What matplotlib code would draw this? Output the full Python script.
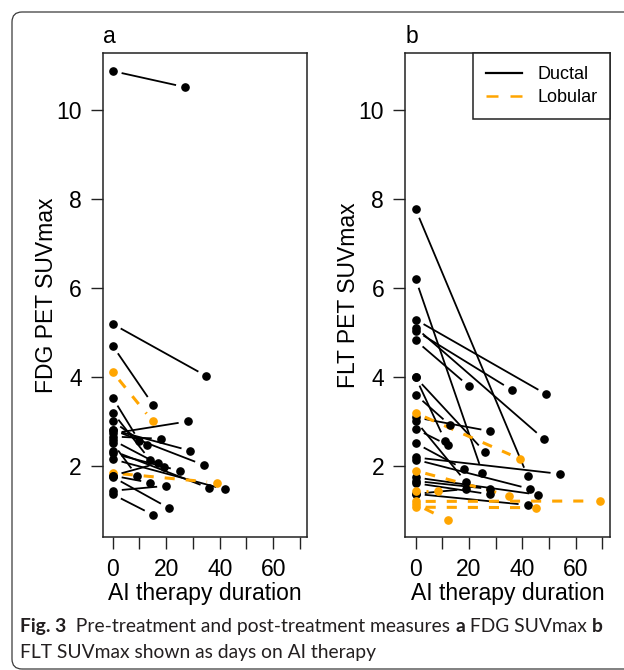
import numpy as np
import matplotlib
matplotlib.use('Agg')
import matplotlib.pyplot as plt
from matplotlib.patches import FancyBboxPatch
from matplotlib.lines import Line2D

plt.rcParams['font.family'] = ['Liberation Sans', 'DejaVu Sans']

# ---------------- data ----------------
# Panel a: FDG SUVmax (pre at day 0, post at AI therapy day)
a_pre = [10.88, 5.19, 4.70, 4.11, 3.53, 3.20, 3.00, 2.81, 2.81, 2.73, 2.66,
         2.58, 2.51, 2.34, 2.28, 2.15, 1.84, 1.78, 1.75, 1.78, 1.44, 1.36]
a_post = [10.52, 4.02, 3.38, 3.00, 2.55, 2.13, 2.46, 2.34, 2.02, 3.00, 2.61,
          1.98, 1.78, 1.50, 1.89, 1.47, 1.62, 2.06, 1.05, 1.62, 1.55, 0.90]
a_days = [27, 35, 15, 15, 10, 14, 13, 29, 34, 28, 18,
          19, 9, 36, 25, 42, 39, 17, 21, 14, 20, 15]
a_type = ['D', 'D', 'D', 'L', 'D', 'D', 'D', 'D', 'D', 'D', 'D',
          'D', 'D', 'D', 'D', 'D', 'L', 'D', 'D', 'D', 'D', 'D']

# Panel b: FLT SUVmax
b_pre = [7.77, 6.20, 5.29, 5.11, 5.04, 4.82, 3.99, 3.99, 3.60, 3.09, 3.01,
         2.83, 2.51, 2.19, 2.14, 1.74, 1.66, 1.61, 1.37, 1.37,
         3.19, 1.89, 1.44, 1.20, 1.07, 1.14]
b_post = [1.77, 1.85, 3.61, 2.61, 3.71, 3.79, 2.57, 2.31, 2.91, 2.78, 1.63,
          2.47, 1.93, 1.82, 1.48, 1.35, 1.48, 1.36, 1.48, 1.12,
          2.16, 1.33, 1.44, 1.21, 1.06, 0.78]
b_days = [42, 25, 49, 48, 36, 20, 11, 26, 13, 28, 19,
          12, 18, 54, 43, 46, 28, 28, 19, 42,
          39, 35, 8.5, 69, 45, 12]
b_type = ['D'] * 20 + ['L'] * 6

x_ticks = [0, 10, 20, 30, 40, 50, 60, 70]
x_ticklabels = ['0', '', '20', '', '40', '', '60', '']
y_ticks = [2, 4, 6, 8, 10]
legend_labels = ['Ductal', 'Lobular']

# ---------------- style ----------------
W, H, DPI = 624, 670, 100
ORANGE = '#FFA500'
FS = 16.5
GAP = 10.0  # px gap between point and segment (R type "b")

fig = plt.figure(figsize=(W / DPI, H / DPI), dpi=DPI)


def fx(px):
    return px / W


def fy(py):
    return 1 - py / H


def make_axes(left, right, top, bottom):
    return fig.add_axes([fx(left), fy(bottom), fx(right) - fx(left), fy(top) - fy(bottom)])


axA = make_axes(102.7, 307.3, 53.3, 537)
axB = make_axes(405, 610, 53.3, 537)
axA.set_xlim(-3.75, 72.75)
axB.set_xlim(-4.0, 72.9)
for ax in (axA, axB):
    ax.set_ylim(0.40, 11.28)


def draw_panel(ax, pre, post, days, types):
    for p0v, p1v, d, t in zip(pre, post, days, types):
        col = ORANGE if t == 'L' else 'black'
        p0 = ax.transData.transform((0, p0v))
        p1 = ax.transData.transform((d, p1v))
        vec = p1 - p0
        L = np.hypot(*vec)
        if L > 2 * GAP:
            u = vec / L
            q0 = ax.transData.inverted().transform(p0 + u * GAP)
            q1 = ax.transData.inverted().transform(p1 - u * GAP)
            if t == 'L':
                ax.plot([q0[0], q1[0]], [q0[1], q1[1]], color=col, lw=2.2,
                        dashes=(3.3, 3.6), solid_capstyle='butt', dash_capstyle='butt', zorder=2)
            else:
                ax.plot([q0[0], q1[0]], [q0[1], q1[1]], color=col, lw=1.3, zorder=2)
        ax.plot([0, d], [p0v, p1v], linestyle='none', marker='o', ms=5.2,
                color=col, mec=col, zorder=3)
    ax.set_xticks(x_ticks)
    ax.set_xticklabels(x_ticklabels)
    ax.set_yticks(y_ticks)
    ax.tick_params(direction='out', length=8.5, width=1.0, labelsize=FS, pad=6.5,
                   color='#222222')
    for s in ax.spines.values():
        s.set_linewidth(1.1)
        s.set_color('#222222')


draw_panel(axA, a_pre, a_post, a_days, a_type)
draw_panel(axB, b_pre, b_post, b_days, b_type)

# axis labels and panel letters
for ax_left, ax_right, ylab, letter in [(102.7, 307.3, 'FDG PET SUVmax', 'a'),
                                        (405, 610, 'FLT PET SUVmax', 'b')]:
    fig.text(fx((ax_left + ax_right) / 2), fy(600), 'AI therapy duration', ha='center',
             va='baseline', fontsize=FS)
    fig.text(fx(ax_left - 56.5), fy(295), ylab, ha='center', va='center', rotation=90,
             fontsize=FS)
    fig.text(fx(ax_left + 0.5), fy(43), letter, ha='left', va='baseline', fontsize=FS)

# legend
handles = [Line2D([], [], color='black', lw=1.6),
           Line2D([], [], color=ORANGE, lw=1.8, dashes=(4.8, 4.8), dash_capstyle='butt')]
leg = axB.legend(handles, legend_labels, loc='upper right', bbox_to_anchor=(1, 1),
                 borderaxespad=0, fancybox=False, edgecolor='#222222', framealpha=1,
                 fontsize=13, handlelength=2.0, handletextpad=0.85, borderpad=0.7,
                 labelspacing=0.35)
leg.get_frame().set_linewidth(1.1)

# caption
renderer = fig.canvas.get_renderer()
CAP_FS = 13.9
CAP_FONT = ['Lato', 'DejaVu Sans']


def put_pieces(x_px, y_px, pieces):
    x = x_px
    for txt, bold in pieces:
        t = fig.text(fx(x), fy(y_px), txt, ha='left', va='baseline', fontsize=CAP_FS,
                     family=CAP_FONT, weight='bold' if bold else 'normal', color='#231f20')
        bb = t.get_window_extent(renderer=renderer)
        x += bb.width


put_pieces(20, 632, [('Fig. 3', True), ('  Pre-treatment and post-treatment measures ', False),
                     ('a', True), (' FDG SUVmax ', False), ('b', True)])
put_pieces(20, 658, [('FLT SUVmax shown as days on AI therapy', False)])

# rounded frame
frame = FancyBboxPatch((12 / DPI, 1 / DPI), 640 / DPI, 657 / DPI,
                       boxstyle='round,pad=0,rounding_size=0.1',
                       transform=fig.dpi_scale_trans, fill=False, edgecolor='#3a3a3a',
                       lw=0.9, clip_on=False)
fig.patches.append(frame)

fig.savefig('out.png', dpi=DPI)
